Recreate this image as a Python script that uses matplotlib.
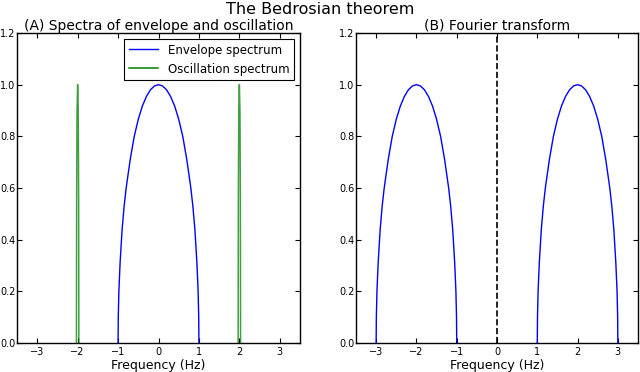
import matplotlib
matplotlib.use("Agg")
import matplotlib.pyplot as plt

# Envelope spectrum (panel A)
env_freq = [-1.0, -0.995, -0.98, -0.95, -0.9, -0.85, -0.8, -0.7, -0.6, -0.5, -0.4, -0.3, -0.2, -0.1, 0.0,
            0.1, 0.2, 0.3, 0.4, 0.5, 0.6, 0.7, 0.8, 0.85, 0.9, 0.95, 0.98, 0.995, 1.0]
env_vals = [0.0, 0.10, 0.20, 0.31, 0.44, 0.53, 0.60, 0.71, 0.80, 0.866, 0.917, 0.954, 0.98, 0.995, 1.0,
            0.995, 0.98, 0.954, 0.917, 0.866, 0.80, 0.71, 0.60, 0.53, 0.44, 0.31, 0.20, 0.10, 0.0]

# Oscillation spectrum (panel A): narrow peaks at -2 and +2 Hz
osc_freq_neg = [-2.03, -2.025, -2.015, -2.0, -1.985, -1.975, -1.97]
osc_freq_pos = [1.97, 1.975, 1.985, 2.0, 2.015, 2.025, 2.03]
osc_vals = [0.0, 0.55, 0.9, 1.0, 0.9, 0.55, 0.0]

# Fourier transform (panel B): two lobes centred at -2 and +2 Hz
ft_freq_neg = [-3.0, -2.995, -2.98, -2.95, -2.9, -2.85, -2.8, -2.7, -2.6, -2.5, -2.4, -2.3, -2.2, -2.1, -2.0,
               -1.9, -1.8, -1.7, -1.6, -1.5, -1.4, -1.3, -1.2, -1.15, -1.1, -1.05, -1.02, -1.005, -1.0]
ft_freq_pos = [1.0, 1.005, 1.02, 1.05, 1.1, 1.15, 1.2, 1.3, 1.4, 1.5, 1.6, 1.7, 1.8, 1.9, 2.0,
               2.1, 2.2, 2.3, 2.4, 2.5, 2.6, 2.7, 2.8, 2.85, 2.9, 2.95, 2.98, 2.995, 3.0]
ft_vals = env_vals

xticks = [-3, -2, -1, 0, 1, 2, 3]
yticks = [0.0, 0.2, 0.4, 0.6, 0.8, 1.0, 1.2]

plt.rcParams['font.family'] = ['DejaVu Sans']
plt.rcParams['xtick.direction'] = 'in'
plt.rcParams['ytick.direction'] = 'in'
plt.rcParams['xtick.top'] = True
plt.rcParams['ytick.right'] = True
plt.rcParams['xtick.major.size'] = 3.5
plt.rcParams['ytick.major.size'] = 3.5

fig = plt.figure(figsize=(6.4, 3.72), dpi=100, facecolor='white')
ax1 = fig.add_axes([17/640, 1 - 343/372, 283/640, 310/372])
ax2 = fig.add_axes([356/640, 1 - 343/372, 282/640, 310/372])

ax1.plot(env_freq, env_vals, color='blue', lw=1.0, label='Envelope spectrum')
ax1.plot(osc_freq_neg, osc_vals, color='green', lw=1.1, label='Oscillation spectrum', alpha=0.75)
ax1.plot(osc_freq_pos, osc_vals, color='green', lw=1.1, alpha=0.75)
ax1.set_title('(A) Spectra of envelope and oscillation', fontsize=10, pad=2)
leg = ax1.legend(loc='upper right', fontsize=8.5, fancybox=False, framealpha=1,
                 edgecolor='black', borderaxespad=0.5, handlelength=2.5)
leg.get_frame().set_linewidth(0.8)
for h in leg.legend_handles:
    h.set_alpha(1.0)

ax2.plot(ft_freq_neg, ft_vals, color='blue', lw=1.0)
ax2.plot(ft_freq_pos, ft_vals, color='blue', lw=1.0)
ax2.axvline(0, color='black', ls='--', lw=1.2)
ax2.set_title('(B) Fourier transform', fontsize=10, pad=2)

for ax in (ax1, ax2):
    ax.set_xlim(-3.5, 3.5)
    ax.set_ylim(0, 1.2)
    ax.set_xticks(xticks)
    ax.set_xticklabels(['\u22123', '\u22122', '\u22121', '0', '1', '2', '3'], fontsize=7)
    ax.set_yticks(yticks)
    ax.set_yticklabels(['%.1f' % v for v in yticks], fontsize=7)
    ax.set_xlabel('Frequency (Hz)', fontsize=9, labelpad=1)
    ax.tick_params(axis='x', pad=3, width=0.8)
    ax.tick_params(axis='y', pad=1, width=0.8)
    for s in ax.spines.values():
        s.set_linewidth(1.0)

fig.suptitle('The Bedrosian theorem', fontsize=11.5, y=0.995)
fig.savefig('out.png', dpi=100, facecolor='white')
